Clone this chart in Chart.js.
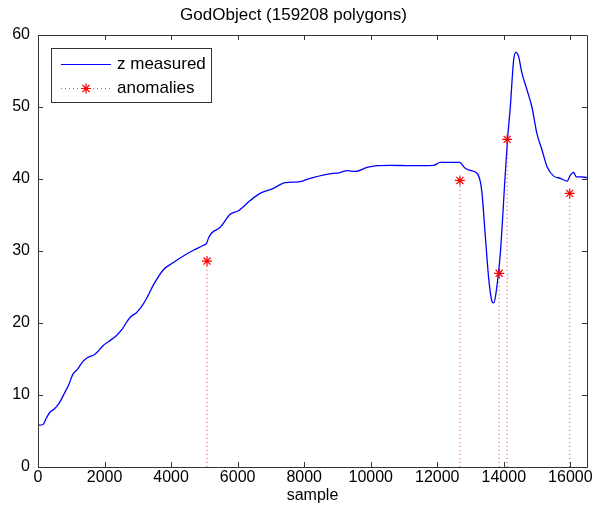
<!DOCTYPE html>
<html>
<head>
<meta charset="utf-8">
<script src="https://cdn.jsdelivr.net/npm/chart.js@4.4.0/dist/chart.umd.min.js"></script>
<style>
html,body{margin:0;padding:0;background:#fff;}
#wrap{width:603px;height:511px;}
</style>
</head>
<body>
<div id="wrap"><canvas id="c" width="603" height="511"></canvas></div>
<script>
// ---- data ----
const sampleX = [0,150,240,360,490,640,790,940,1040,1190,1340,1490,1690,1790,1945,2145,2345,2525,2645,2795,2950,3100,3250,3470,3770,4070,4370,4670,4970,5070,5125,5220,5475,5775,6025,6375,6675,7075,7430,7830,8180,8680,9080,9285,9535,9885,10185,10585,11190,11890,12090,12670,12840,12990,13195,13300,13345,13445,13545,13645,13700,13775,13895,14045,14115,14195,14295,14365,14445,14545,14695,14845,14995,15150,15300,15500,15700,15900,16000,16100,16180,16300,16500];
const zMeasured = [5.8,5.9,6.7,7.6,8.05,8.9,10.2,11.6,12.8,13.6,14.6,15.2,15.6,16.0,16.8,17.5,18.2,19.1,20.0,20.9,21.4,22.2,23.3,25.3,27.4,28.4,29.3,30.1,30.8,31.1,31.8,32.5,33.3,35.1,35.6,37.0,38.0,38.7,39.5,39.6,40.1,40.65,40.9,41.15,41.05,41.6,41.85,41.9,41.85,41.9,42.3,42.3,41.5,41.2,40.8,39.5,38.0,32.0,26.2,23.0,22.8,24.5,29.7,40.8,45.7,50.0,56.5,57.6,57.0,54.7,52.4,50.0,46.3,44.0,41.7,40.4,40.1,39.7,40.55,40.9,40.3,40.3,40.2];
const anomalyX = [5080,12680,13860,14100,15980];
const anomalyY = [28.6,39.8,26.9,45.5,38.0];
const xTicks = [0,2000,4000,6000,8000,10000,12000,14000,16000];
const yTicks = [0,10,20,30,40,50,60];
const seriesNames = ['z measured','anomalies'];
const chartTitle = 'GodObject (159208 polygons)';
const xLabel = 'sample';

const FONT = '"Liberation Sans", Arial, Helvetica, sans-serif';

const lineData = sampleX.map((x,i)=>({x:x,y:zMeasured[i]}));
const stemData = [];
anomalyX.forEach((x,i)=>{
  stemData.push({x:x,y:0});
  stemData.push({x:x,y:anomalyY[i]});
  stemData.push({x:x,y:null});
});

const frame = {
  id:'frame',
  afterDatasetsDraw(chart){
    const {ctx, chartArea:a, scales} = chart;
    ctx.save();
    ctx.strokeStyle = '#333';
    ctx.lineWidth = 1;
    ctx.beginPath();
    ctx.rect(Math.round(a.left)+0.5, Math.round(a.top)+0.5, Math.round(a.right-a.left), Math.round(a.bottom-a.top));
    ctx.stroke();
    const L = 5;
    ctx.beginPath();
    xTicks.forEach(v=>{
      const px = Math.round(scales.x.getPixelForValue(v))+0.5;
      ctx.moveTo(px,a.bottom); ctx.lineTo(px,a.bottom-L);
      ctx.moveTo(px,a.top); ctx.lineTo(px,a.top+L);
    });
    yTicks.forEach(v=>{
      const py = Math.round(scales.y.getPixelForValue(v))+0.5;
      ctx.moveTo(a.left,py); ctx.lineTo(a.left+L,py);
      ctx.moveTo(a.right,py); ctx.lineTo(a.right-L,py);
    });
    ctx.stroke();
    ctx.restore();
  },
  afterDraw(chart){
    const {ctx, chartArea:a} = chart;
    const bx = a.left+13, by = a.top+13, bw = 160, bh = 54;
    ctx.save();
    ctx.fillStyle = '#fff';
    ctx.fillRect(bx,by,bw,bh);
    ctx.strokeStyle = '#333';
    ctx.lineWidth = 1;
    ctx.strokeRect(Math.round(bx)+0.5, Math.round(by)+0.5, bw, bh);
    const y1 = by+16.5, y2 = by+40.5;
    ctx.strokeStyle = '#0000ff';
    ctx.lineWidth = 1.2;
    ctx.beginPath(); ctx.moveTo(bx+10,y1); ctx.lineTo(bx+60,y1); ctx.stroke();
    ctx.strokeStyle = 'rgba(255,0,0,0.75)';
    ctx.lineWidth = 1;
    ctx.setLineDash([1,3]);
    ctx.beginPath(); ctx.moveTo(bx+10,y2); ctx.lineTo(bx+60,y2); ctx.stroke();
    ctx.setLineDash([]);
    ctx.strokeStyle = '#ff0000';
    ctx.lineWidth = 1.2;
    Chart.helpers.drawPoint(ctx,{pointStyle:'star',radius:5,rotation:0,borderWidth:1.2},bx+35,y2);
    ctx.fillStyle = '#000';
    ctx.font = '17px ' + FONT;
    ctx.textBaseline = 'middle';
    ctx.textAlign = 'left';
    ctx.fillText(seriesNames[0], bx+66, y1);
    ctx.fillText(seriesNames[1], bx+66, y2);
    ctx.restore();
  }
};

new Chart(document.getElementById('c'), {
  type:'line',
  data:{
    datasets:[
      {
        label:seriesNames[1],
        data:stemData,
        order:0,
        borderColor:'rgba(255,0,0,0.75)',
        borderWidth:1,
        borderDash:[1,3],
        spanGaps:false,
        pointStyle:'star',
        pointRadius:ctx=>(ctx.raw && ctx.raw.y>0 ? 5 : 0),
        pointHoverRadius:0,
        pointBorderColor:'#ff0000',
        pointBorderWidth:1.2,
        tension:0
      },
      {
        label:seriesNames[0],
        data:lineData,
        order:1,
        borderColor:'#0000ff',
        borderWidth:1.3,
        pointRadius:0,
        cubicInterpolationMode:'monotone',
        fill:false
      }
    ]
  },
  options:{
    responsive:false,
    animation:false,
    events:[],
    layout:{padding:{left:0,right:16,top:0,bottom:0}},
    plugins:{
      legend:{display:false},
      tooltip:{enabled:false},
      title:{display:true,text:chartTitle,color:'#000',font:{family:FONT,size:17,weight:'normal'},padding:{top:5,bottom:9.6}}
    },
    scales:{
      x:{
        type:'linear',min:0,max:16500,
        grid:{display:false,drawTicks:false},
        border:{display:false},
        afterBuildTicks:s=>{s.ticks = xTicks.map(v=>({value:v}));},
        afterFit:s=>{s.height = 44;},
        ticks:{color:'#000',font:{family:FONT,size:16},padding:1,maxRotation:0,autoSkip:false,callback:v=>String(v)},
        title:{display:true,text:xLabel,color:'#000',font:{family:FONT,size:16},padding:{top:0,bottom:6}}
      },
      y:{
        type:'linear',min:0,max:60,
        grid:{display:false,drawTicks:false},
        border:{display:false},
        afterBuildTicks:s=>{s.ticks = yTicks.map(v=>({value:v}));},
        afterFit:s=>{s.width = 38;},
        ticks:{color:'#000',font:{family:FONT,size:16},padding:8}
      }
    }
  },
  plugins:[frame]
});
</script>
</body>
</html>
